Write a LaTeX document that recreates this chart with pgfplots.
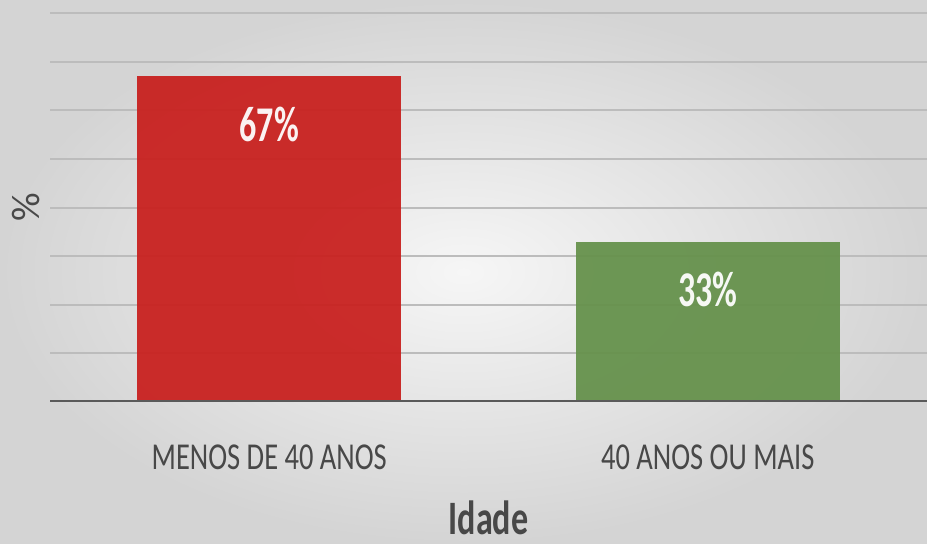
\documentclass[border=0pt]{standalone}
\usepackage{pgfplots}
\pgfplotsset{compat=1.18}
\usepackage{fontspec}
\setmainfont{Carlito}
\usepackage{graphicx}
\definecolor{barred}{RGB}{200,32,30}
\definecolor{bargreen}{RGB}{101,145,75}
\definecolor{gridc}{RGB}{188,188,188}
\definecolor{txt}{RGB}{72,72,72}
\definecolor{zeroline}{RGB}{90,90,90}
\begin{document}
\begin{tikzpicture}
\useasboundingbox (0pt,0pt) rectangle (463.5pt,272pt);
\shade[inner color={rgb,255:red,246;green,246;blue,246}, outer color={rgb,255:red,212;green,212;blue,212}] (0pt,0pt) rectangle (463.5pt,272pt);
\begin{axis}[
  at={(25pt,71pt)}, anchor=south west,
  scale only axis, width=438.5pt, height=201pt,
  xmin=-0.5, xmax=1.5, ymin=0, ymax=82.7,
  ybar, bar width=0.603,
  axis line style={draw=none},
  tick style={draw=none},
  xtick={0,1},
  xticklabels={\scalebox{0.75}[1]{MENOS DE 40 ANOS},\scalebox{0.75}[1]{40 ANOS OU MAIS}},
  xticklabel style={anchor=center, yshift=-23.5pt, font=\fontsize{19}{19}\selectfont, text=txt},
  ytick={10,20,...,80},
  yticklabels={},
  ymajorgrids,
  grid style={gridc, line width=1pt},
  xlabel={\scalebox{0.71}[1]{Idade}},
  xlabel style={at={(axis description cs:0.5,-0.288)}, anchor=center, font=\bfseries\fontsize{24}{24}\selectfont, text=txt},
  ylabel={\%},
  ylabel style={at={(axis description cs:-0.02737,0.485)}, anchor=center, font=\fontsize{20}{20}\selectfont, text=txt},
  /pgf/number format/assume math mode=true,
  nodes near coords={\scalebox{0.68}[1]{\pgfmathprintnumber{\pgfplotspointmeta}\%}},
  every node near coord/.append style={anchor=center, yshift=-24pt, text=white, font=\bfseries\fontsize{25}{25}\selectfont},
]
\addplot[fill=barred, draw=none, fill opacity=0.94, bar shift=0pt] coordinates {(0,67)};
\addplot[fill=bargreen, draw=none, fill opacity=0.94, bar shift=0pt] coordinates {(1,33)};
\draw[zeroline, line width=1.6pt] (axis cs:-0.5,0) -- (axis cs:1.5,0);
\end{axis}
\end{tikzpicture}
\end{document}
